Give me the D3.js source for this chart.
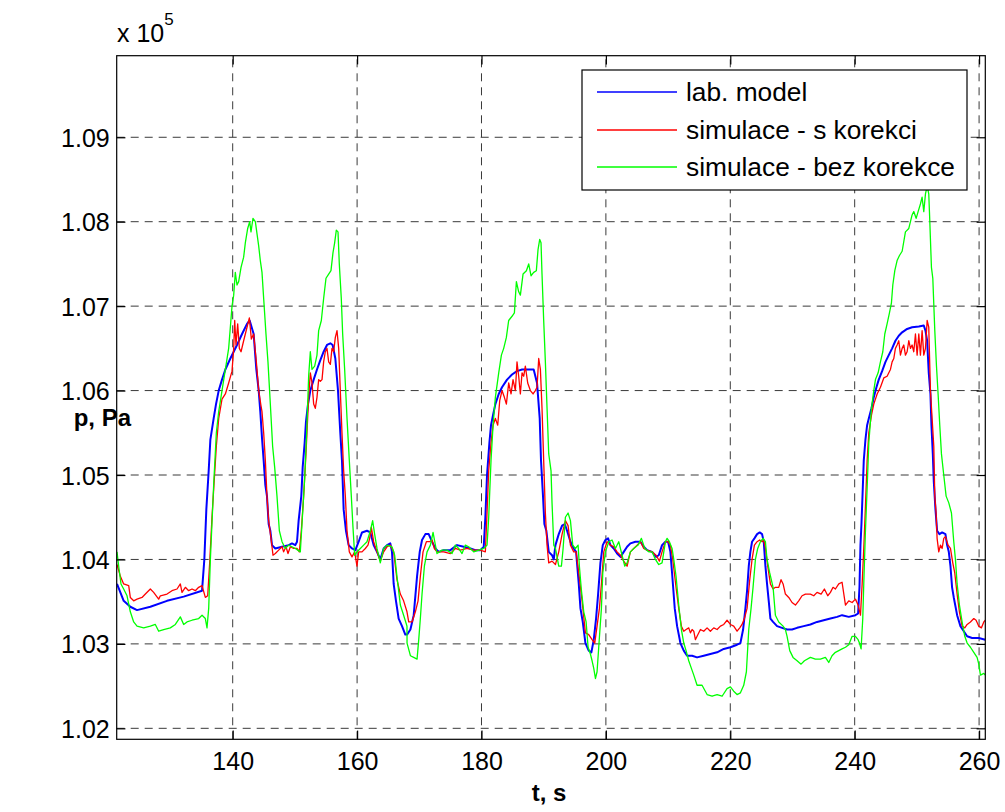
<!DOCTYPE html>
<html>
<head>
<meta charset="utf-8">
<script src="https://cdn.jsdelivr.net/npm/d3@7"></script>
<style>
  html, body { margin: 0; padding: 0; background: #ffffff; }
  svg { display: block; font-family: "Liberation Sans", Arial, sans-serif; }
</style>
</head>
<body>
<svg id="chart" width="1005" height="812"></svg>
<script>
// Pressure p [Pa] over time t [s]: [t, p]
const labModel = [
  [121.40,103710],[122.47,103510],[123.54,103440],[124.62,103400],[126.76,103440],[129.44,103510],
  [132.12,103560],[135.07,103630],[135.44,104000],[135.76,104590],[136.14,105050],[136.41,105420],
  [136.94,105670],[137.32,105840],[137.75,106000],[138.28,106130],[138.82,106250],[139.62,106380],
  [140.16,106460],[140.69,106540],[141.50,106670],[142.30,106790],[142.73,106830],[143.37,106670],
  [143.80,106250],[144.18,106000],[144.44,105750],[144.71,105440],[144.98,105170],[145.25,104880],
  [145.51,104750],[145.78,104420],[146.05,104340],[146.32,104170],[146.85,104130],[147.93,104150],
  [149.00,104170],[149.53,104190],[150.07,104170],[150.34,104210],[150.60,104460],[151.03,104750],
  [151.25,105090],[151.57,105380],[151.78,105630],[152.11,105840],[152.48,106000],[153.02,106130],
  [153.55,106250],[154.09,106360],[154.62,106460],[155.16,106540],[155.70,106560],[156.07,106540],
  [156.50,106380],[156.93,106000],[157.30,105500],[157.57,105170],[157.84,104590],[158.21,104340],
  [158.64,104170],[159.18,104130],[159.72,104110],[160.25,104210],[160.79,104320],[161.59,104340],
  [162.13,104320],[162.66,104170],[163.20,104090],[163.73,104000],[164.27,104130],[164.81,104170],
  [165.34,104190],[165.61,104090],[165.88,103710],[166.25,103510],[166.68,103300],[167.22,103210],
  [167.75,103110],[168.03,103110],[168.57,103170],[169.10,103340],[169.64,103800],[170.07,104090],
  [170.44,104230],[170.98,104300],[171.51,104300],[172.05,104210],[172.59,104130],[173.12,104090],
  [173.92,104110],[175.00,104110],[176.07,104170],[177.14,104150],[178.21,104130],[179.02,104110],
  [179.82,104110],[180.36,104150],[180.62,104500],[180.89,105000],[181.27,105380],[181.53,105590],
  [181.86,105710],[182.23,105840],[182.77,105960],[183.30,106040],[184.11,106130],[184.91,106190],
  [185.71,106230],[186.52,106250],[187.32,106250],[188.39,106250],[188.93,106090],[189.36,105670],
  [189.57,105170],[189.89,104750],[190.11,104420],[190.43,104340],[190.81,104090],[191.34,104050],
  [191.62,104000],[191.89,104170],[192.42,104300],[192.96,104400],[193.39,104420],[193.76,104340],
  [194.30,104210],[194.83,104130],[195.21,104090],[195.64,103710],[195.91,103420],[196.28,103260],
  [196.71,103010],[197.24,102920],[197.67,102900],[198.05,103050],[198.42,103300],[198.75,103590],
  [199.12,103960],[199.50,104170],[199.92,104230],[200.35,104250],[200.73,104170],[201.26,104130],
  [201.80,104070],[202.34,104030],[202.87,104090],[203.41,104150],[203.94,104190],[204.75,104210],
  [205.55,104210],[206.09,104150],[206.62,104110],[207.43,104090],[208.07,104030],[208.50,104050],
  [209.03,104170],[209.57,104210],[210.00,104210],[210.37,104090],[210.64,103840],[211.07,103420],
  [211.45,103210],[211.98,103010],[212.52,102920],[213.05,102860],[213.86,102860],[214.66,102840],
  [215.73,102860],[216.80,102880],[217.88,102900],[218.95,102940],[220.02,102960],[221.09,102990],
  [221.63,103010],[222.06,103170],[222.43,103420],[222.70,103630],[222.97,103920],[223.23,104090],
  [223.50,104210],[223.88,104250],[224.31,104300],[224.73,104320],[225.11,104300],[225.38,104210],
  [225.65,103920],[225.91,103710],[226.18,103510],[226.45,103300],[226.88,103260],[227.52,103210],
  [228.33,103190],[229.13,103170],[229.93,103170],[230.74,103190],[231.81,103210],[232.88,103230],
  [233.95,103260],[235.02,103280],[236.10,103300],[237.17,103320],[237.97,103340],[239.05,103320],
  [240.12,103340],[240.55,103360],[240.77,103670],[240.93,104170],[241.09,104420],[241.30,104840],
  [241.46,105170],[241.73,105420],[242.00,105590],[242.27,105670],[242.70,105790],[243.07,105920],
  [243.50,106040],[243.87,106130],[244.41,106230],[244.95,106340],[245.48,106420],[246.02,106500],
  [246.55,106590],[247.09,106650],[247.63,106690],[248.43,106730],[249.23,106750],[250.31,106760],
  [251.11,106770],[251.38,106710],[251.65,106590],[251.91,106210],[252.18,105960],[252.34,105590],
  [252.56,105250],[252.72,104920],[252.99,104590],[253.25,104340],[253.63,104300],[254.06,104320],
  [254.59,104300],[254.86,104170],[255.13,104090],[255.40,103920],[255.66,103670],[255.93,103550],
  [256.47,103340],[257.00,103210],[257.54,103150],[258.08,103090],[258.88,103070],[259.95,103070],
  [261.00,103050]
];

const simWithCorrection = [
  [121.40,103940],[121.94,103800],[122.47,103710],[123.28,103690],[123.54,103550],[124.08,103510],
  [124.62,103530],[125.42,103550],[125.96,103590],[126.76,103650],[127.29,103610],[128.10,103530],
  [128.37,103570],[129.44,103590],[130.24,103630],[131.05,103650],[131.58,103710],[131.85,103610],
  [132.39,103670],[132.92,103630],[133.46,103650],[133.99,103630],[134.53,103670],[135.07,103690],
  [135.60,103550],[135.98,103570],[136.30,103960],[136.67,104500],[137.05,104960],[137.37,105340],
  [137.75,105670],[138.28,105900],[138.82,105960],[139.35,106090],[139.89,106230],[140.16,106500],
  [140.32,106830],[140.53,106540],[140.80,106790],[141.07,106500],[141.34,106460],[141.76,106590],
  [142.30,106750],[142.68,106860],[143.00,106610],[143.37,106670],[143.80,106340],[144.18,106000],
  [144.55,105820],[144.71,105750],[144.98,105500],[145.25,105170],[145.51,104750],[145.78,104460],
  [146.16,104250],[146.48,104050],[146.85,104070],[147.39,104110],[147.93,104150],[148.19,104090],
  [148.57,104150],[148.89,104070],[149.27,104150],[149.80,104130],[150.34,104130],[150.71,104090],
  [151.03,104340],[151.41,104750],[151.78,105250],[152.21,105920],[152.48,106210],[152.75,106090],
  [153.02,105840],[153.28,105790],[153.55,105920],[153.82,106130],[154.09,106110],[154.36,106130],
  [154.62,106340],[154.89,106460],[155.16,106500],[155.43,106340],[155.70,106310],[155.96,106500],
  [156.23,106460],[156.50,106630],[156.77,106710],[157.04,106500],[157.30,106000],[157.57,105500],
  [157.84,105050],[158.11,104750],[158.38,104340],[158.75,104090],[159.18,104030],[159.61,104090],
  [159.98,103920],[160.25,104090],[160.79,104090],[161.32,104130],[161.75,104170],[162.02,104250],
  [162.29,104380],[162.66,104210],[163.20,104090],[163.73,103980],[164.27,104090],[164.81,104150],
  [165.34,104170],[165.88,104090],[166.41,103760],[166.95,103590],[167.48,103510],[168.02,103380],
  [168.30,103260],[168.83,103260],[169.37,103380],[169.80,103510],[170.17,103800],[170.60,104090],
  [171.14,104210],[171.67,104210],[172.05,104230],[172.42,104130],[172.85,104090],[173.92,104090],
  [175.00,104070],[175.80,104130],[176.60,104110],[177.68,104130],[178.75,104110],[179.82,104110],
  [180.62,104090],[180.89,104550],[181.16,105050],[181.53,105380],[181.86,105590],[182.23,105670],
  [182.61,105590],[182.93,105880],[183.30,106000],[183.68,105920],[184.00,105840],[184.37,106090],
  [184.75,105960],[185.07,106130],[185.45,106000],[185.71,106340],[185.98,106170],[186.25,105960],
  [186.52,106210],[186.79,106170],[187.05,106290],[187.43,106090],[187.86,106000],[188.29,105960],
  [188.66,106000],[188.93,106040],[189.20,106380],[189.47,106250],[189.73,105790],[190.00,105170],
  [190.27,104550],[190.54,104170],[190.81,103960],[191.34,103980],[191.89,103940],[192.42,104090],
  [192.96,104300],[193.49,104460],[193.92,104400],[194.30,104170],[194.83,104090],[195.21,104090],
  [195.64,103840],[196.17,103510],[196.71,103130],[197.24,103110],[197.78,103050],[198.21,103010],
  [198.58,103210],[198.96,103420],[199.28,103710],[199.66,104090],[200.19,104210],[200.73,104170],
  [201.26,104150],[201.80,104090],[202.34,104050],[202.87,103980],[203.41,103920],[203.94,104090],
  [204.48,104130],[205.02,104170],[205.55,104210],[206.09,104130],[206.62,104110],[207.43,104090],
  [208.07,104050],[208.61,103980],[209.03,104090],[209.57,104210],[210.00,104210],[210.37,104170],
  [210.75,104000],[211.28,103670],[211.71,103420],[212.14,103210],[212.52,103150],[212.89,103170],
  [213.32,103190],[213.59,103130],[213.86,103170],[214.13,103150],[214.39,103050],[214.66,103090],
  [215.20,103170],[215.73,103150],[216.27,103190],[216.80,103150],[217.34,103190],[217.88,103170],
  [218.41,103210],[218.95,103230],[219.48,103280],[220.02,103230],[220.55,103210],[221.09,103150],
  [221.52,103190],[221.89,103230],[222.27,103300],[222.70,103420],[223.13,103760],[223.50,104000],
  [223.88,104170],[224.31,104210],[224.73,104230],[225.11,104210],[225.38,104230],[225.65,104130],
  [226.02,103920],[226.45,103710],[226.88,103650],[227.25,103670],[227.79,103670],[228.16,103760],
  [228.49,103710],[228.86,103590],[229.40,103550],[229.93,103490],[230.47,103460],[231.00,103510],
  [231.54,103570],[232.08,103590],[232.88,103590],[233.42,103570],[233.95,103610],[234.60,103590],
  [235.13,103650],[235.67,103570],[236.10,103610],[236.52,103670],[236.90,103650],[237.44,103710],
  [237.97,103730],[238.52,103460],[239.05,103510],[239.59,103490],[240.12,103530],[240.55,103460],
  [240.93,103340],[241.20,103710],[241.46,104130],[241.73,104630],[242.00,105170],[242.27,105500],
  [242.70,105710],[243.07,105840],[243.61,105960],[244.14,106040],[244.68,106150],[245.21,106170],
  [245.75,106250],[246.02,106340],[246.29,106380],[246.55,106500],[246.82,106540],[247.09,106590],
  [247.36,106420],[247.63,106500],[247.89,106540],[248.16,106420],[248.43,106460],[248.70,106590],
  [248.97,106500],[249.23,106540],[249.50,106460],[249.77,106670],[250.04,106420],[250.31,106670],
  [250.57,106420],[250.84,106710],[251.11,106420],[251.38,106500],[251.65,106830],[251.91,106750],
  [252.18,106000],[252.45,105670],[252.72,105340],[252.88,104750],[253.09,104550],[253.25,104250],
  [253.52,104090],[253.79,104170],[254.06,104130],[254.32,104250],[254.59,104270],[255.02,104170],
  [255.40,104130],[255.77,103960],[256.09,103840],[256.47,103590],[256.84,103380],[257.27,103210],
  [257.70,103190],[258.08,103230],[258.61,103260],[259.15,103300],[259.52,103280],[259.95,103210],
  [260.38,103190],[260.76,103260],[261.00,103280]
];

const simWithoutCorrection = [
  [121.40,104090],[121.67,103920],[122.04,103710],[122.47,103650],[123.01,103570],[123.54,103380],
  [124.08,103260],[124.62,103210],[125.69,103190],[126.76,103210],[127.56,103230],[128.10,103150],
  [128.90,103170],[129.97,103190],[130.78,103230],[131.58,103320],[132.12,103230],[132.65,103260],
  [133.46,103280],[134.53,103300],[135.07,103340],[135.60,103300],[135.87,103190],[136.14,103420],
  [136.41,104000],[136.94,104880],[137.37,105500],[137.75,105750],[138.28,106000],[138.82,106250],
  [139.35,106500],[139.89,107000],[140.16,107130],[140.42,107400],[140.69,107250],[140.96,107290],
  [141.34,107460],[141.76,107580],[142.03,107750],[142.41,107920],[142.73,108000],[142.94,107880],
  [143.26,108040],[143.64,108000],[144.18,107710],[144.44,107540],[144.71,107400],[144.98,107090],
  [145.35,106670],[145.67,106340],[146.05,105840],[146.42,105340],[146.75,105090],[147.12,104750],
  [147.50,104340],[147.93,104210],[148.46,104130],[149.00,104170],[149.53,104150],[150.07,104130],
  [150.87,104090],[151.14,104420],[151.57,104960],[151.94,105590],[152.21,106170],[152.48,106460],
  [152.75,106250],[153.18,106290],[153.55,106420],[153.82,106710],[154.25,106830],[154.62,107090],
  [155.00,107330],[155.43,107380],[155.80,107420],[156.12,107630],[156.39,107750],[156.66,107900],
  [156.93,107880],[157.14,107500],[157.46,107090],[157.68,106670],[158.00,106250],[158.38,105670],
  [158.75,105170],[159.07,104750],[159.34,104380],[159.61,104050],[159.98,104090],[160.52,104130],
  [161.05,104170],[161.59,104210],[162.13,104340],[162.50,104460],[162.82,104300],[163.20,104130],
  [163.73,103960],[164.27,104130],[164.81,104170],[165.61,104150],[166.04,104050],[166.41,103800],
  [166.95,103460],[167.48,103340],[168.02,103210],[168.03,103010],[168.57,102860],[169.10,102840],
  [169.64,102820],[169.91,103050],[170.17,103300],[170.44,103590],[170.82,103920],[171.25,104090],
  [171.78,104170],[172.21,104320],[172.59,104170],[172.85,104070],[173.66,104110],[174.46,104110],
  [175.26,104070],[175.80,104170],[176.34,104130],[176.87,104070],[177.41,104170],[177.94,104150],
  [178.75,104090],[179.55,104110],[180.36,104130],[180.89,104170],[181.16,104500],[181.53,105170],
  [181.86,105590],[182.23,105920],[182.77,106210],[183.20,106420],[183.57,106500],[184.00,106630],
  [184.37,106830],[184.91,106880],[185.29,106920],[185.61,107290],[185.98,107170],[186.25,107130],
  [186.68,107380],[187.22,107420],[187.59,107500],[187.96,107360],[188.39,107400],[188.82,107420],
  [189.09,107670],[189.36,107790],[189.57,107750],[189.73,107380],[190.00,106830],[190.27,106340],
  [190.54,105790],[190.81,105250],[191.18,105050],[191.34,104670],[191.62,104170],[191.89,104130],
  [192.42,103920],[192.85,103920],[193.12,104130],[193.49,104500],[193.92,104550],[194.30,104460],
  [194.67,104170],[195.10,104130],[195.53,104170],[195.74,103920],[196.07,103630],[196.44,103380],
  [196.82,103260],[197.14,102960],[197.51,102880],[197.78,102800],[198.05,102710],[198.32,102590],
  [198.58,102670],[198.85,102960],[199.28,103420],[199.50,103840],[199.92,104090],[200.46,104210],
  [200.99,104230],[201.53,104130],[202.07,104210],[202.60,104050],[203.03,103920],[203.41,103960],
  [203.94,104090],[204.48,104130],[205.18,104170],[205.71,104250],[206.25,104130],[206.89,104090],
  [207.43,104090],[207.96,104000],[208.50,103940],[209.03,103960],[209.57,104210],[209.84,104250],
  [210.21,104210],[210.64,104130],[210.91,104000],[211.28,103800],[211.71,103460],[212.14,103170],
  [212.52,103010],[212.89,102920],[213.32,102800],[213.75,102710],[214.13,102630],[214.66,102510],
  [215.46,102510],[216.27,102400],[217.07,102380],[217.88,102400],[218.68,102380],[219.48,102470],
  [220.02,102490],[220.55,102440],[221.09,102400],[221.63,102420],[222.16,102510],[222.59,102670],
  [222.97,103170],[223.34,103420],[223.66,103670],[224.04,104000],[224.41,104130],[224.84,104210],
  [225.27,104250],[225.65,104210],[225.91,104000],[226.34,103840],[226.88,103670],[227.25,103340],
  [227.79,103260],[228.49,103210],[228.86,103170],[229.13,103090],[229.56,102920],[230.09,102840],
  [230.74,102800],[231.38,102760],[231.92,102800],[232.88,102840],[233.68,102820],[234.49,102820],
  [235.29,102840],[235.83,102780],[236.36,102860],[236.90,102900],[237.44,102920],[237.97,102940],
  [238.52,102960],[239.05,102990],[239.59,103090],[240.12,103090],[240.55,103050],[240.77,103010],
  [241.03,102940],[241.30,103300],[241.46,103710],[241.73,104340],[242.00,104840],[242.27,105380],
  [242.70,105790],[243.07,106000],[243.34,106130],[243.77,106210],[244.14,106340],[244.52,106460],
  [244.84,106670],[245.21,106790],[245.59,106920],[245.91,107040],[246.13,107250],[246.45,107420],
  [246.82,107540],[247.20,107600],[247.63,107650],[248.16,107880],[248.70,107920],[249.23,108080],
  [249.50,108120],[249.88,108040],[250.20,108120],[250.57,108210],[250.84,108290],[251.11,108120],
  [251.38,108330],[251.65,108420],[251.91,108330],[252.02,108120],[252.34,107460],[252.56,107330],
  [252.88,106710],[253.15,106290],[253.41,105960],[253.68,105590],[253.95,105250],[254.32,105000],
  [254.70,104750],[255.13,104670],[255.56,104550],[255.93,104210],[256.20,104000],[256.47,103710],
  [256.84,103460],[257.27,103260],[257.70,103090],[258.08,103010],[258.61,102960],[259.15,102900],
  [259.68,102840],[259.95,102760],[260.22,102630],[260.76,102650],[261.00,102630]
];

const seriesNames = ["lab. model", "simulace - s korekci", "simulace - bez korekce"];
const seriesColors = ["#0000ff", "#ff0000", "#00ff00"];
const xTicks = [140, 160, 180, 200, 220, 240, 260];
const yTicks = [102000, 103000, 104000, 105000, 106000, 107000, 108000, 109000];
const xDomain = [121.35, 261.0];
const yDomain = [101870, 109966];

const svg = d3.select("#chart");
const W = 1005, H = 812;
const plot = { left: 116.7, right: 985.3, top: 55.7, bottom: 739.3 };

svg.append("rect").attr("width", W).attr("height", H).attr("fill", "#ffffff");

const x = d3.scaleLinear().domain(xDomain).range([plot.left, plot.right]);
const y = d3.scaleLinear().domain(yDomain).range([plot.bottom, plot.top]);

// dashed grid
const grid = svg.append("g").attr("stroke", "#3a3a3a").attr("stroke-width", 1)
  .attr("stroke-dasharray", "8,6").attr("fill", "none");
grid.selectAll("line.gx").data(xTicks).join("line").attr("class", "gx")
  .attr("x1", d => x(d)).attr("x2", d => x(d))
  .attr("y1", plot.bottom).attr("y2", plot.top);
grid.selectAll("line.gy").data(yTicks).join("line").attr("class", "gy")
  .attr("x1", plot.left).attr("x2", plot.right)
  .attr("y1", d => y(d)).attr("y2", d => y(d));

// data lines
svg.append("clipPath").attr("id", "plotClip").append("rect")
  .attr("x", plot.left).attr("y", plot.top)
  .attr("width", plot.right - plot.left).attr("height", plot.bottom - plot.top);

const line = d3.line().x(d => x(d[0])).y(d => y(d[1]));
const allSeries = [labModel, simWithCorrection, simWithoutCorrection];
const widths = [2, 1.3, 1.3];
const lines = svg.append("g").attr("clip-path", "url(#plotClip)");
allSeries.forEach((s, i) => {
  lines.append("path").datum(s).attr("d", line)
    .attr("fill", "none").attr("stroke", seriesColors[i])
    .attr("stroke-width", widths[i]).attr("stroke-linejoin", "round");
});

// axes box
svg.append("rect")
  .attr("x", plot.left).attr("y", plot.top)
  .attr("width", plot.right - plot.left).attr("height", plot.bottom - plot.top)
  .attr("fill", "none").attr("stroke", "#000").attr("stroke-width", 1.2);

const tickLen = 8.7;
const fmtY = d => (d / 1e5).toFixed(2);

// inward ticks on all four sides, labels on bottom and left
const axB = svg.append("g").attr("transform", `translate(0,${plot.bottom})`)
  .call(d3.axisBottom(x).tickValues(xTicks).tickSizeInner(-tickLen).tickSizeOuter(0));
const axT = svg.append("g").attr("transform", `translate(0,${plot.top})`)
  .call(d3.axisTop(x).tickValues(xTicks).tickSizeInner(-tickLen).tickSizeOuter(0).tickFormat(""));
const axL = svg.append("g").attr("transform", `translate(${plot.left},0)`)
  .call(d3.axisLeft(y).tickValues(yTicks).tickFormat(fmtY).tickSizeInner(-tickLen).tickSizeOuter(0).tickPadding(7));
const axR = svg.append("g").attr("transform", `translate(${plot.right},0)`)
  .call(d3.axisRight(y).tickValues(yTicks).tickSizeInner(-tickLen).tickSizeOuter(0).tickFormat(""));

[axB, axT, axL, axR].forEach(a => {
  a.select(".domain").remove();
  a.selectAll(".tick line").attr("stroke", "#000").attr("stroke-width", 1.2);
  a.selectAll("text").attr("fill", "#000")
    .attr("font-family", "'Liberation Sans', Arial, sans-serif").attr("font-size", 25);
});
axB.selectAll("text").attr("dy", null).attr("y", 770 - plot.bottom);
axL.selectAll("text").attr("dy", "0.36em");

// exponent note
const expo = svg.append("text").attr("x", 117).attr("y", 42)
  .attr("font-size", 25).attr("fill", "#000");
expo.append("tspan").text("x 10");
expo.append("tspan").attr("font-size", 17).attr("dy", -17).text("5");

// axis labels
svg.append("text").attr("x", 131).attr("y", 426).attr("text-anchor", "end")
  .attr("font-size", 24).attr("font-weight", "bold").text("p, Pa");
svg.append("text").attr("x", 549).attr("y", 801).attr("text-anchor", "middle")
  .attr("font-size", 24).attr("font-weight", "bold").text("t, s");

// legend
const lg = { x: 582, y: 70, w: 385, h: 120 };
const legend = svg.append("g");
legend.append("rect").attr("x", lg.x).attr("y", lg.y).attr("width", lg.w).attr("height", lg.h)
  .attr("fill", "#fff").attr("stroke", "#000").attr("stroke-width", 1.2);
const rowY = [92, 130, 167];
seriesNames.forEach((name, i) => {
  legend.append("line").attr("x1", 597).attr("x2", 677).attr("y1", rowY[i]).attr("y2", rowY[i])
    .attr("stroke", seriesColors[i]).attr("stroke-width", 1.3);
  legend.append("text").attr("x", 686).attr("y", rowY[i] + 9)
    .attr("font-size", 26.3).attr("fill", "#000").text(name);
});
</script>
</body>
</html>
